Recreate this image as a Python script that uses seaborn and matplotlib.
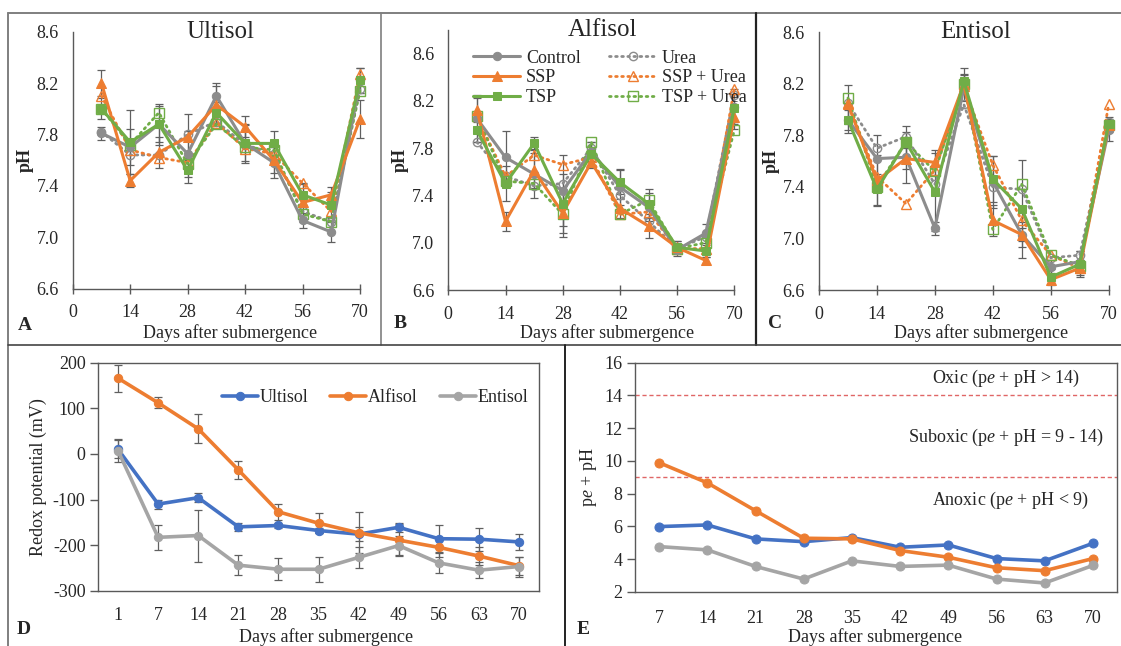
import numpy as np
import pandas as pd
import matplotlib
matplotlib.use("Agg")
import matplotlib.pyplot as plt
import seaborn as sns
from matplotlib.lines import Line2D

# ---------------- data ----------------
days = [7, 14, 21, 28, 35, 42, 49, 56, 63, 70]
treatments = ["Control", "SSP", "TSP", "Urea", "SSP + Urea", "TSP + Urea"]

# Panel A - Ultisol pH
ult_control = [7.81, 7.70, 7.88, 7.65, 8.10, 7.73, 7.58, 7.13, 7.04, 8.22]
ult_ssp = [8.20, 7.44, 7.66, 7.78, 8.03, 7.86, 7.60, 7.27, 7.33, 7.92]
ult_tsp = [8.00, 7.74, 7.88, 7.52, 7.97, 7.73, 7.73, 7.33, 7.25, 8.22]
ult_urea = [7.82, 7.64, 7.64, 7.80, 7.90, 7.72, 7.65, 7.20, 7.12, 8.15]
ult_ssp_urea = [8.10, 7.68, 7.62, 7.58, 7.89, 7.69, 7.65, 7.42, 7.20, 8.27]
ult_tsp_urea = [8.00, 7.72, 7.97, 7.57, 7.88, 7.70, 7.68, 7.18, 7.12, 8.14]
ult_err_control = [0.05, 0.14, 0.14, 0.18, 0.10, 0.14, 0.12, 0.06, 0.08, 0.10]
ult_err_ssp = [0.10, 0.05, 0.12, 0.18, 0.15, 0.08, 0.10, 0.15, 0.06, 0.15]
ult_err_tsp = [0.08, 0.25, 0.16, 0.10, 0.08, 0.15, 0.10, 0.08, 0.10, 0.10]

# Panel B - Alfisol pH
alf_control = [8.05, 7.72, 7.58, 7.44, 7.77, 7.47, 7.30, 6.94, 7.08, 8.15]
alf_ssp = [8.12, 7.18, 7.61, 7.25, 7.68, 7.29, 7.14, 6.96, 6.85, 8.06]
alf_tsp = [7.95, 7.50, 7.84, 7.33, 7.75, 7.51, 7.33, 6.96, 6.93, 8.14]
alf_urea = [7.85, 7.56, 7.48, 7.50, 7.80, 7.40, 7.18, 6.95, 7.05, 8.25]
alf_ssp_urea = [8.07, 7.56, 7.74, 7.66, 7.72, 7.24, 7.26, 6.95, 6.95, 8.30]
alf_tsp_urea = [8.07, 7.52, 7.50, 7.24, 7.85, 7.24, 7.36, 6.95, 7.00, 7.95]
alf_err_control = [0.20, 0.22, 0.20, 0.30, 0.08, 0.15, 0.12, 0.05, 0.08, 0.15]
alf_err_ssp = [0.10, 0.08, 0.15, 0.20, 0.05, 0.08, 0.10, 0.05, 0.03, 0.10]
alf_err_tsp = [0.10, 0.15, 0.05, 0.25, 0.10, 0.10, 0.12, 0.05, 0.05, 0.12]

# Panel C - Entisol pH
ent_control = [7.92, 7.62, 7.63, 7.08, 8.17, 7.44, 7.03, 6.78, 6.82, 7.84]
ent_ssp = [8.04, 7.45, 7.62, 7.59, 8.20, 7.14, 7.03, 6.68, 6.77, 7.88]
ent_tsp = [7.92, 7.38, 7.75, 7.36, 8.22, 7.46, 7.23, 6.70, 6.80, 7.89]
ent_urea = [8.05, 7.70, 7.79, 7.42, 8.04, 7.40, 7.38, 6.85, 6.87, 7.90]
ent_ssp_urea = [8.05, 7.48, 7.27, 7.53, 8.18, 7.57, 7.14, 6.87, 6.77, 8.04]
ent_tsp_urea = [8.09, 7.40, 7.75, 7.52, 8.20, 7.07, 7.42, 6.87, 6.79, 7.88]
ent_err_control = [0.10, 0.18, 0.20, 0.05, 0.10, 0.20, 0.10, 0.05, 0.08, 0.08]
ent_err_ssp = [0.15, 0.20, 0.08, 0.10, 0.08, 0.12, 0.05, 0.03, 0.05, 0.05]
ent_err_tsp = [0.08, 0.12, 0.12, 0.30, 0.10, 0.18, 0.38, 0.06, 0.10, 0.05]

# Panel D - redox potential (mV)
redox_days = ["1", "7", "14", "21", "28", "35", "42", "49", "56", "63", "70"]
soils = ["Ultisol", "Alfisol", "Entisol"]
eh_ultisol = [10, -110, -96, -160, -157, -168, -176, -161, -186, -187, -193]
eh_alfisol = [166, 112, 55, -35, -127, -152, -173, -189, -205, -224, -245]
eh_entisol = [7, -183, -179, -244, -253, -253, -227, -201, -239, -255, -247]
eh_err_ultisol = [20, 10, 10, 8, 5, 6, 15, 10, 30, 25, 17]
eh_err_alfisol = [30, 12, 32, 20, 17, 22, 45, 35, 20, 20, 20]
eh_err_entisol = [25, 28, 57, 22, 24, 28, 23, 20, 22, 18, 22]

# Panel E - pe + pH
pe_days = ["7", "14", "21", "28", "35", "42", "49", "56", "63", "70"]
pepH_ultisol = [5.99, 6.09, 5.24, 5.07, 5.32, 4.73, 4.87, 4.04, 3.90, 4.97]
pepH_alfisol = [9.89, 8.66, 6.96, 5.28, 5.24, 4.53, 4.12, 3.48, 3.30, 4.04]
pepH_entisol = [4.77, 4.57, 3.56, 2.79, 3.90, 3.56, 3.64, 2.79, 2.55, 3.62]
thresholds = [14, 9]

# ---------------- style ----------------
sns.set_style("white")
plt.rcParams["font.family"] = ["Liberation Serif", "DejaVu Serif"]
plt.rcParams["mathtext.fontset"] = "custom"
plt.rcParams["mathtext.rm"] = "Liberation Serif"
plt.rcParams["mathtext.it"] = "Liberation Serif:italic"
plt.rcParams["axes.unicode_minus"] = False

GRAY = "#8c8c8c"
ORANGE = "#ED7D31"
GREEN = "#70AD47"
BLUE = "#4472C4"
LGRAY = "#A5A5A5"
SPINE = "#595959"
W, H = 1121, 646

fig = plt.figure(figsize=(W / 100, H / 100), dpi=100)


def ax_px(l, t, r, b):
    return fig.add_axes([l / W, 1 - b / H, (r - l) / W, (b - t) / H])


def style_ph(ax, top):
    ax.set_xlim(0, 70)
    ax.set_ylim(6.6, top)
    ax.set_xticks([0, 14, 28, 42, 56, 70])
    ax.set_yticks([6.6, 7.0, 7.4, 7.8, 8.2, 8.6])
    ax.set_yticklabels(["6.6", "7.0", "7.4", "7.8", "8.2", "8.6"])
    for s in ["top", "right"]:
        ax.spines[s].set_visible(False)
    for s in ["left", "bottom"]:
        ax.spines[s].set_color(SPINE)
        ax.spines[s].set_linewidth(1.0)
    ax.tick_params(axis="x", direction="inout", length=7, width=1.0, color=SPINE,
                   labelsize=13, pad=8, bottom=True)
    ax.tick_params(axis="y", length=0, labelsize=13, pad=10, left=True)
    ax.set_ylabel("pH", fontsize=13, fontweight="bold", labelpad=2)
    ax.set_xlabel("")


solid_styles = {
    "Control": dict(color=GRAY, marker="o", markersize=6),
    "SSP": dict(color=ORANGE, marker="^", markersize=6.5),
    "TSP": dict(color=GREEN, marker="s", markersize=6),
}
dotted_styles = {
    "Urea": dict(color=GRAY, marker="o", markersize=6),
    "SSP + Urea": dict(color=ORANGE, marker="^", markersize=7),
    "TSP + Urea": dict(color=GREEN, marker="s", markersize=6.5),
}


def draw_ph(ax, series, errs):
    for name, vals in zip(treatments[:3], series[:3]):
        e = errs[name]
        ax.errorbar(days, vals, yerr=e, fmt="none", ecolor="#606060", elinewidth=0.9,
                    capsize=3, capthick=0.9, zorder=1, clip_on=False)
    for name, vals in zip(treatments[3:], series[3:]):
        st = dotted_styles[name]
        sns.lineplot(x=days, y=vals, ax=ax, sort=False, color=st["color"], linewidth=2.0,
                     linestyle=(0, (0.6, 1.6)), dash_capstyle="round",
                     marker=st["marker"], markersize=st["markersize"],
                     markerfacecolor="none", markeredgecolor=st["color"],
                     markeredgewidth=1.0, label=name, zorder=2, clip_on=False)
    for name, vals in zip(treatments[:3], series[:3]):
        st = solid_styles[name]
        sns.lineplot(x=days, y=vals, ax=ax, sort=False, color=st["color"], linewidth=2.2,
                     marker=st["marker"], markersize=st["markersize"],
                     markerfacecolor=st["color"], markeredgecolor=st["color"],
                     label=name, zorder=3, clip_on=False)


def ph_legend(ax):
    h, l = ax.get_legend_handles_labels()
    order = [l.index(t) for t in treatments]
    ax.legend([h[i] for i in order], [l[i] for i in order], ncol=2, loc="upper left",
              bbox_to_anchor=(0.05, 0.965), frameon=False, fontsize=13, handlelength=2.6,
              handletextpad=0.3, columnspacing=1.6, labelspacing=0.15, borderpad=0.1)


# Panel A
axA = ax_px(72.7, 31.7, 360, 288.5)
draw_ph(axA, [ult_control, ult_ssp, ult_tsp, ult_urea, ult_ssp_urea, ult_tsp_urea],
        {"Control": ult_err_control, "SSP": ult_err_ssp, "TSP": ult_err_tsp})
style_ph(axA, 8.6)
axA.legend_.remove()
axA.text(0.513, 1.0, "Ultisol", transform=axA.transAxes, ha="center", va="center", fontsize=18)

# Panel B
axB = ax_px(448.3, 29.7, 734.3, 290)
draw_ph(axB, [alf_control, alf_ssp, alf_tsp, alf_urea, alf_ssp_urea, alf_tsp_urea],
        {"Control": alf_err_control, "SSP": alf_err_ssp, "TSP": alf_err_tsp})
style_ph(axB, 8.8)
ph_legend(axB)
axB.text(0.54, 1.0, "Alfisol", transform=axB.transAxes, ha="center", va="center", fontsize=18)

# Panel C
axC = ax_px(819, 32.3, 1108.7, 290)
draw_ph(axC, [ent_control, ent_ssp, ent_tsp, ent_urea, ent_ssp_urea, ent_tsp_urea],
        {"Control": ent_err_control, "SSP": ent_err_ssp, "TSP": ent_err_tsp})
style_ph(axC, 8.6)
axC.legend_.remove()
axC.text(0.54, 1.0, "Entisol", transform=axC.transAxes, ha="center", va="center", fontsize=18)

for ax, xc in [(axA, 230), (axB, 607), (axC, 981)]:
    fig.text(xc / W, 1 - 333 / H, "Days after submergence", ha="center", va="center", fontsize=13)

# Panel D
axD = ax_px(98, 362.7, 539, 590.7)
soil_colors = [BLUE, ORANGE, LGRAY]
for name, vals, err, c in zip(soils, [eh_ultisol, eh_alfisol, eh_entisol],
                              [eh_err_ultisol, eh_err_alfisol, eh_err_entisol], soil_colors):
    axD.errorbar(redox_days, vals, yerr=err, fmt="none", ecolor="#606060", elinewidth=0.9,
                 capsize=3, capthick=0.9, zorder=1)
for name, vals, c in zip(soils, [eh_ultisol, eh_alfisol, eh_entisol], soil_colors):
    sns.lineplot(x=redox_days, y=vals, ax=axD, sort=False, color=c, linewidth=2.6,
                 marker="o", markersize=6, markerfacecolor=c, markeredgecolor=c,
                 label=name, zorder=3)
axD.set_xlim(-0.5, 10.5)
axD.set_ylim(-300, 200)
axD.set_yticks([-300, -200, -100, 0, 100, 200])
axD.tick_params(axis="y", direction="out", length=6, width=1.0, color=SPINE, labelsize=13, pad=3, left=True)
axD.tick_params(axis="x", length=0, labelsize=13, pad=12)
for s in axD.spines.values():
    s.set_color(SPINE)
    s.set_linewidth(1.0)
axD.set_ylabel("Redox potential (mV)", fontsize=13, labelpad=4)
axD.set_xlabel("")
axD.legend(ncol=3, loc="upper right", bbox_to_anchor=(1.0, 0.93), frameon=False, fontsize=13,
           handlelength=2.0, handletextpad=0.1, columnspacing=1.2, borderpad=0.1)
fig.text(326 / W, 1 - 637 / H, "Days after submergence", ha="center", va="center", fontsize=13)

# Panel E
axE = ax_px(635, 362.5, 1117, 592)
for name, vals, c in zip(soils, [pepH_ultisol, pepH_alfisol, pepH_entisol], soil_colors):
    sns.lineplot(x=pe_days, y=vals, ax=axE, sort=False, color=c, linewidth=2.6,
                 marker="o", markersize=6.5, markerfacecolor=c, markeredgecolor=c,
                 legend=False, zorder=3)
for t in thresholds:
    axE.axhline(t, color="#E06666", linestyle=(0, (3, 2)), linewidth=1.0, zorder=2)
axE.set_xlim(-0.5, 9.5)
axE.set_ylim(2, 16)
axE.set_yticks([2, 4, 6, 8, 10, 12, 14, 16])
axE.tick_params(axis="y", direction="out", length=6, width=1.0, color=SPINE, labelsize=13, pad=3, left=True)
axE.tick_params(axis="x", length=0, labelsize=13, pad=13)
for s in axE.spines.values():
    s.set_color(SPINE)
    s.set_linewidth(1.0)
axE.set_ylabel(r"p$\mathit{e}$ + pH", fontsize=13, labelpad=4)
axE.set_xlabel("")
axE.text(7.2, 15.05, r"Oxic (p$\mathit{e}$ + pH > 14)", ha="center", va="center", fontsize=13)
axE.text(7.2, 11.45, r"Suboxic (p$\mathit{e}$ + pH = 9 - 14)", ha="center", va="center", fontsize=13)
axE.text(7.3, 7.56, r"Anoxic (p$\mathit{e}$ + pH < 9)", ha="center", va="center", fontsize=13)
fig.text(875 / W, 1 - 637 / H, "Days after submergence", ha="center", va="center", fontsize=13)

# panel letters
for lbl, x, y in [("A", 25, 325), ("B", 400, 323), ("C", 775, 323), ("D", 24, 630), ("E", 583, 629)]:
    fig.text(x / W, 1 - y / H, lbl, ha="center", va="center", fontsize=14, fontweight="bold")


# frame lines between panels
def hline(y, x0, x1, c, lw):
    fig.add_artist(Line2D([x0 / W, x1 / W], [1 - y / H, 1 - y / H], color=c, linewidth=lw,
                          transform=fig.transFigure))


def vline(x, y0, y1, c, lw):
    fig.add_artist(Line2D([x / W, x / W], [1 - y0 / H, 1 - y1 / H], color=c, linewidth=lw,
                          transform=fig.transFigure))


hline(12.5, 8, W, "#7f7f7f", 1.4)
vline(8, 12.5, H, "#7f7f7f", 1.4)
vline(381, 12.5, 345, "#7f7f7f", 1.2)
vline(756, 12.5, 345, "#222222", 1.6)
hline(345, 8, W, "#444444", 1.2)
vline(565, 345, H, "#222222", 1.4)

fig.savefig("out.png", dpi=100)
